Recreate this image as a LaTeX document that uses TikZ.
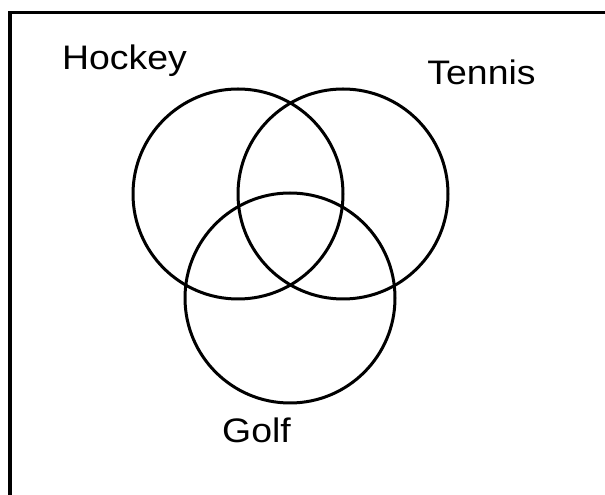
\documentclass[tikz,border=0pt]{standalone}
\usepackage{fontspec}
\setmainfont{Liberation Sans}
\begin{document}
\begin{tikzpicture}[x=1pt,y=1pt,
  ring/.style={draw,circle,line width=3pt,minimum size=210pt,inner sep=0pt},
  setlabel/.style={anchor=base,inner sep=0pt,font=\fontsize{34}{40}\selectfont}]
\useasboundingbox (0,0) rectangle (605,495);
\draw[line width=3.2pt] (10,0) -- (10,482.5) -- (605,482.5);
\node[ring] (hockeyset) at (238,301) {};
\node[ring] (tennisset) at (343,301) {};
\node[ring] (golfset) at (290,197) {};
\node[setlabel] (hockey) at (124.5,425) {\scalebox{1.1}[1]{Hockey}};
\node[setlabel] (tennis) at (481.5,410) {\scalebox{1.1}[1]{Tennis}};
\node[setlabel] (golf) at (256.5,52) {\scalebox{1.1}[1]{Golf}};
\end{tikzpicture}
\end{document}
